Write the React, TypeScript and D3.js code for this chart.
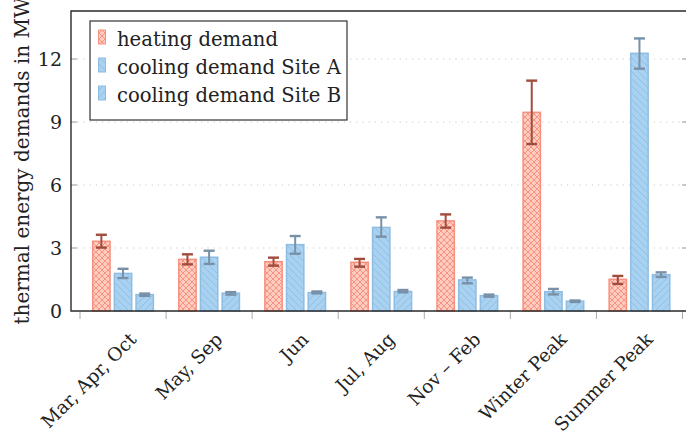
import React from 'react';
import * as d3 from 'd3';
import { useEffect, useRef } from 'react';

const categories = ['Mar, Apr, Oct', 'May, Sep', 'Jun', 'Jul, Aug', 'Nov – Feb', 'Winter Peak', 'Summer Peak'];
const seriesNames = ['heating demand', 'cooling demand Site A', 'cooling demand Site B'];

const heating = [3.32, 2.46, 2.35, 2.32, 4.29, 9.46, 1.51];
const heatingLo = [3.02, 2.22, 2.16, 2.11, 3.97, 7.95, 1.29];
const heatingHi = [3.63, 2.70, 2.54, 2.48, 4.60, 10.97, 1.67];

const siteA = [1.79, 2.56, 3.16, 3.98, 1.48, 0.92, 12.27];
const siteALo = [1.57, 2.24, 2.73, 3.54, 1.32, 0.79, 11.54];
const siteAHi = [2.01, 2.87, 3.57, 4.46, 1.59, 1.05, 12.98];

const siteB = [0.78, 0.85, 0.88, 0.93, 0.73, 0.47, 1.73];
const siteBLo = [0.72, 0.78, 0.84, 0.89, 0.68, 0.43, 1.62];
const siteBHi = [0.83, 0.90, 0.93, 1.00, 0.78, 0.50, 1.84];

const yTicks = [0, 3, 6, 9, 12];

const FONT = '"DejaVu Serif", serif';

const App = () => {
    const chartRef = useRef<SVGSVGElement | null>(null);

    useEffect(() => {
        const left = 71, right = 688, top = 11, bottom = 311;

        const svg = d3.select(chartRef.current);
        svg.selectAll('*').remove();

        const series = [
            { name: seriesNames[0], values: heating, lo: heatingLo, hi: heatingHi, fill: 'url(#patHeat)', stroke: '#f7917f', err: '#a24c3e' },
            { name: seriesNames[1], values: siteA, lo: siteALo, hi: siteAHi, fill: 'url(#patA)', stroke: '#8fbde2', err: '#7890a8' },
            { name: seriesNames[2], values: siteB, lo: siteBLo, hi: siteBHi, fill: 'url(#patB)', stroke: '#8fbde2', err: '#7890a8' },
        ];

        const xScale = d3.scaleBand().domain(categories).range([80, 682.5]).padding(0);
        const inner = d3.scaleBand().domain(seriesNames).range([-32.5, 32.5]).paddingInner(0.2).paddingOuter(0.1);
        const yScale = d3.scaleLinear().domain([0, 300 / 21]).range([bottom, top]);

        // patterns
        const defs = svg.append('defs');
        const ph = defs.append('pattern').attr('id', 'patHeat').attr('patternUnits', 'userSpaceOnUse')
            .attr('width', 6).attr('height', 6);
        ph.append('rect').attr('width', 6).attr('height', 6).attr('fill', '#ffcdbf');
        ph.append('path').attr('d', 'M0,0 L6,6 M6,0 L0,6').attr('stroke', '#f68474').attr('stroke-width', 0.8);

        const s = 7;
        const pa = defs.append('pattern').attr('id', 'patA').attr('patternUnits', 'userSpaceOnUse')
            .attr('width', s).attr('height', s);
        pa.append('rect').attr('width', s).attr('height', s).attr('fill', '#aad2f0');
        pa.append('path').attr('d', `M-1,${s - 1} l2,2 M0,0 l${s},${s} M${s - 1},-1 l2,2`)
            .attr('stroke', '#7fc0e8').attr('stroke-width', 0.8);

        const pb = defs.append('pattern').attr('id', 'patB').attr('patternUnits', 'userSpaceOnUse')
            .attr('width', s).attr('height', s);
        pb.append('rect').attr('width', s).attr('height', s).attr('fill', '#aad2f0');
        pb.append('path').attr('d', `M-1,1 l2,-2 M0,${s} l${s},-${s} M${s - 1},${s + 1} l2,-2`)
            .attr('stroke', '#7fc0e8').attr('stroke-width', 0.8);

        // grid
        svg.append('g').selectAll('line')
            .data(yTicks.filter(t => t > 0))
            .enter().append('line')
            .attr('x1', left).attr('x2', right)
            .attr('y1', d => yScale(d)).attr('y2', d => yScale(d))
            .attr('stroke', '#c8c8c8').attr('stroke-width', 1)
            .attr('stroke-dasharray', '1.2,5');

        // y tick marks (both sides, inward)
        const yt = svg.append('g');
        yTicks.filter(t => t > 0).forEach(t => {
            yt.append('line').attr('x1', left).attr('x2', left + 6).attr('y1', yScale(t)).attr('y2', yScale(t))
                .attr('stroke', '#999').attr('stroke-width', 1);
            yt.append('line').attr('x1', right - 6).attr('x2', right).attr('y1', yScale(t)).attr('y2', yScale(t))
                .attr('stroke', '#999').attr('stroke-width', 1);
        });

        // x tick marks between categories
        const bounds = categories.map(c => xScale(c) as number).concat([682.5]);
        svg.append('g').selectAll('line')
            .data(bounds)
            .enter().append('line')
            .attr('x1', d => d).attr('x2', d => d)
            .attr('y1', bottom).attr('y2', bottom + 8)
            .attr('stroke', '#aaa').attr('stroke-width', 1);

        // bars
        series.forEach(ser => {
            const g = svg.append('g');
            g.selectAll('rect')
                .data(ser.values)
                .enter().append('rect')
                .attr('x', (d, i) => (xScale(categories[i]) as number) + xScale.bandwidth() / 2 + (inner(ser.name) as number))
                .attr('y', d => yScale(d))
                .attr('width', inner.bandwidth())
                .attr('height', d => bottom - yScale(d))
                .attr('fill', ser.fill)
                .attr('stroke', ser.stroke)
                .attr('stroke-width', 1.5);
        });

        // error bars
        series.forEach(ser => {
            const g = svg.append('g').attr('stroke', ser.err);
            ser.values.forEach((v, i) => {
                const cx = (xScale(categories[i]) as number) + xScale.bandwidth() / 2 + (inner(ser.name) as number) + inner.bandwidth() / 2;
                g.append('line').attr('x1', cx).attr('x2', cx)
                    .attr('y1', yScale(ser.lo[i])).attr('y2', yScale(ser.hi[i])).attr('stroke-width', 2);
                [ser.lo[i], ser.hi[i]].forEach(e => {
                    g.append('line').attr('x1', cx - 5.5).attr('x2', cx + 5.5)
                        .attr('y1', yScale(e)).attr('y2', yScale(e)).attr('stroke-width', 2.4);
                });
            });
        });

        // frame
        svg.append('path')
            .attr('d', `M${right},${top} L${left},${top} L${left},${bottom} L${right},${bottom} Z`)
            .attr('fill', 'none').attr('stroke', '#2a2a2a').attr('stroke-width', 1.4);

        // y tick labels
        svg.append('g').selectAll('text')
            .data(yTicks)
            .enter().append('text')
            .attr('x', 62).attr('y', d => yScale(d))
            .attr('dy', '0.36em')
            .attr('text-anchor', 'end')
            .style('font-family', FONT).style('font-size', '19px').attr('fill', '#222')
            .text(d => d);

        // y label
        svg.append('text')
            .attr('transform', `translate(29, ${(top + bottom) / 2}) rotate(-90)`)
            .attr('text-anchor', 'middle')
            .style('font-family', FONT).style('font-size', '20px').attr('fill', '#222')
            .text('thermal energy demands in MW');

        // x tick labels
        svg.append('g').selectAll('text')
            .data(categories)
            .enter().append('text')
            .attr('transform', d => `translate(${(xScale(d) as number) + xScale.bandwidth() / 2 + 10}, 336) rotate(-45)`)
            .attr('text-anchor', 'end')
            .attr('dy', '0.35em')
            .style('font-family', FONT).style('font-size', '18.5px').attr('fill', '#222')
            .text(d => d);

        // legend
        const lg = svg.append('g');
        lg.append('rect').attr('x', 90).attr('y', 21).attr('width', 257).attr('height', 99)
            .attr('fill', 'white').attr('stroke', '#333').attr('stroke-width', 1.2);
        series.forEach((ser, i) => {
            const yy = 30 + i * 28;
            lg.append('rect').attr('x', 98.5).attr('y', yy).attr('width', 7).attr('height', 14)
                .attr('fill', ser.fill).attr('stroke', ser.stroke).attr('stroke-width', 1);
            lg.append('text').attr('x', 117).attr('y', yy + 16)
                .style('font-family', FONT).style('font-size', '19.6px').attr('fill', '#222')
                .text(ser.name);
        });
    }, []);

    return (
        <svg ref={chartRef} width={686} height={439} style={{ position: 'absolute', left: 0, top: 0 }}></svg>
    );
};

export default App;
